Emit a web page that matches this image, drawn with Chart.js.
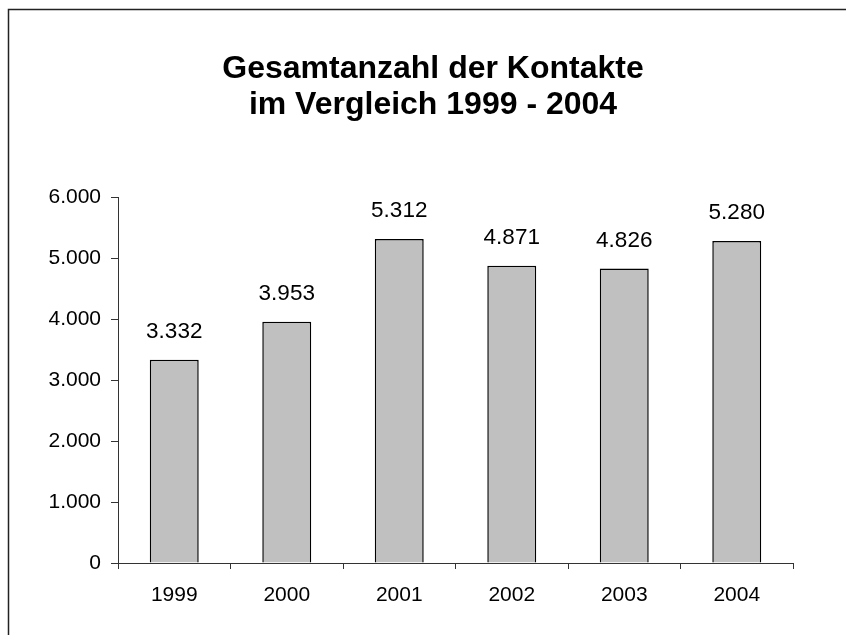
<!DOCTYPE html>
<html>
<head>
<meta charset="utf-8">
<script src="https://cdn.jsdelivr.net/npm/chart.js@4/dist/chart.umd.min.js"></script>
<style>
  html, body { margin: 0; padding: 0; background: #fff; }
  #wrap { width: 846px; height: 635px; position: relative; }
</style>
</head>
<body>
<div id="wrap"><canvas id="c" width="846" height="635"></canvas></div>
<script>
const categories = ["1999", "2000", "2001", "2002", "2003", "2004"];
const contacts = [3332, 3953, 5312, 4871, 4826, 5280];
const titleLines = ["Gesamtanzahl der Kontakte", "im Vergleich 1999 - 2004"];
const yMin = 0, yMax = 6000, yStep = 1000;

function fmtDE(v) {
  return String(Math.round(v)).replace(/\B(?=(\d{3})+(?!\d))/g, ".");
}

const FONT = "'Liberation Sans', Arial, sans-serif";

const frame = {
  id: "frame",
  afterDraw(chart) {
    const ctx = chart.ctx;
    ctx.save();
    ctx.strokeStyle = "#222";
    ctx.lineWidth = 1.5;
    ctx.strokeRect(8.5, 9.5, 850, 640);
    ctx.restore();
  }
};

const valueLabels = {
  id: "valueLabels",
  afterDatasetsDraw(chart) {
    const ctx = chart.ctx;
    const meta = chart.getDatasetMeta(0);
    ctx.save();
    ctx.font = "22.5px " + FONT;
    ctx.fillStyle = "#000";
    ctx.textAlign = "center";
    ctx.textBaseline = "middle";
    meta.data.forEach((bar, i) => {
      ctx.fillText(fmtDE(chart.data.datasets[0].data[i]), bar.x, bar.y - 28);
    });
    ctx.restore();
  }
};

new Chart(document.getElementById("c"), {
  type: "bar",
  data: {
    labels: categories,
    datasets: [{
      data: contacts,
      backgroundColor: "#c0c0c0",
      borderColor: "#000",
      borderWidth: 1.5,
      categoryPercentage: 1,
      barPercentage: 0.435
    }]
  },
  options: {
    responsive: false,
    animation: false,
    devicePixelRatio: 1,
    layout: { padding: { left: 20, right: 0, top: 0, bottom: 0 } },
    plugins: {
      legend: { display: false },
      tooltip: { enabled: false },
      title: {
        display: true,
        text: titleLines,
        color: "#000",
        font: { family: FONT, size: 32, weight: "bold", lineHeight: 1.125 },
        padding: { top: 51, bottom: 74 }
      }
    },
    scales: {
      x: {
        afterFit(s) { s.height = 72; },
        grid: { display: true, drawOnChartArea: false, drawTicks: true, tickLength: 6, color: "#333", offset: true },
        border: { display: true, color: "#333", width: 1 },
        ticks: { color: "#000", font: { family: FONT, size: 21 }, padding: 14, maxRotation: 0 }
      },
      y: {
        min: yMin, max: yMax,
        afterFit(s) { s.width = 98; },
        grid: { display: true, drawOnChartArea: false, drawTicks: true, tickLength: 7, color: "#333" },
        border: { display: true, color: "#333", width: 1 },
        ticks: {
          stepSize: yStep, color: "#000", font: { family: FONT, size: 21 }, padding: 10,
          callback: (v) => fmtDE(v)
        }
      },
      yRight: {
        position: "right",
        min: yMin, max: yMax,
        afterFit(s) { s.width = 53; },
        grid: { display: false },
        border: { display: false },
        ticks: { display: false }
      }
    }
  },
  plugins: [frame, valueLabels]
});
</script>
</body>
</html>
